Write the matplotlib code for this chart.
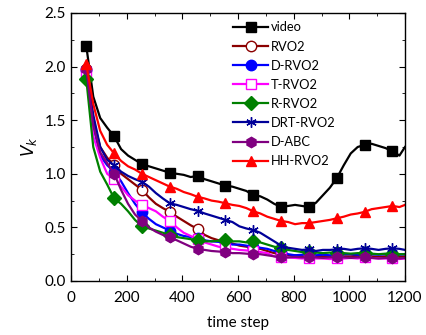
import numpy as np
import matplotlib
matplotlib.use('Agg')
import matplotlib.pyplot as plt
from matplotlib.ticker import MultipleLocator

plt.rcParams['font.family'] = ['Lato', 'DejaVu Sans']

steps = [55, 80, 105, 130, 155, 180, 205, 230, 255, 280, 305, 330, 355, 380, 405, 430,
         455, 480, 505, 530, 555, 580, 605, 630, 655, 680, 705, 730, 755, 780, 805, 830,
         855, 880, 905, 930, 955, 980, 1005, 1030, 1055, 1080, 1105, 1130, 1155, 1180, 1200]

video = [2.19, 1.72, 1.52, 1.43, 1.35, 1.23, 1.17, 1.13, 1.09, 1.07, 1.05, 1.03, 1.01, 1.00, 0.99, 0.97,
         0.98, 0.95, 0.93, 0.91, 0.89, 0.88, 0.86, 0.84, 0.80, 0.79, 0.76, 0.72, 0.69, 0.70, 0.71, 0.70,
         0.69, 0.73, 0.80, 0.87, 0.96, 1.08, 1.19, 1.25, 1.27, 1.28, 1.26, 1.24, 1.21, 1.17, 1.25]
rvo2 = [1.98, 1.50, 1.25, 1.15, 1.08, 1.00, 0.95, 0.90, 0.85, 0.78, 0.72, 0.68, 0.645, 0.60, 0.56, 0.52,
        0.485, 0.43, 0.40, 0.38, 0.37, 0.35, 0.33, 0.32, 0.31, 0.30, 0.28, 0.26, 0.25, 0.24, 0.24, 0.23,
        0.23, 0.235, 0.23, 0.23, 0.225, 0.23, 0.23, 0.235, 0.23, 0.23, 0.225, 0.23, 0.23, 0.225, 0.23]
d_rvo2 = [1.97, 1.45, 1.17, 1.08, 1.02, 0.93, 0.82, 0.72, 0.64, 0.58, 0.53, 0.50, 0.47, 0.44, 0.42, 0.41,
          0.40, 0.38, 0.37, 0.365, 0.36, 0.34, 0.34, 0.33, 0.32, 0.31, 0.30, 0.28, 0.27, 0.25, 0.24, 0.245,
          0.25, 0.24, 0.245, 0.24, 0.24, 0.25, 0.25, 0.245, 0.25, 0.25, 0.245, 0.25, 0.25, 0.245, 0.25]
t_rvo2 = [1.95, 1.35, 1.15, 1.00, 0.95, 0.88, 0.80, 0.75, 0.71, 0.68, 0.65, 0.60, 0.56, 0.50, 0.45, 0.42,
          0.39, 0.36, 0.34, 0.32, 0.31, 0.30, 0.29, 0.285, 0.28, 0.27, 0.26, 0.23, 0.22, 0.22, 0.215, 0.21,
          0.215, 0.21, 0.21, 0.205, 0.21, 0.21, 0.215, 0.21, 0.22, 0.215, 0.21, 0.21, 0.21, 0.205, 0.21]
r_rvo2 = [1.88, 1.25, 1.02, 0.90, 0.77, 0.72, 0.65, 0.57, 0.51, 0.49, 0.47, 0.45, 0.43, 0.41, 0.40, 0.39,
          0.38, 0.37, 0.37, 0.375, 0.38, 0.37, 0.37, 0.36, 0.37, 0.36, 0.34, 0.32, 0.31, 0.29, 0.28, 0.27,
          0.27, 0.265, 0.26, 0.265, 0.26, 0.26, 0.255, 0.26, 0.26, 0.255, 0.25, 0.255, 0.25, 0.25, 0.25]
drt_rvo2 = [1.98, 1.55, 1.25, 1.13, 1.08, 1.02, 0.98, 0.95, 0.925, 0.88, 0.82, 0.77, 0.725, 0.71, 0.69, 0.67,
            0.655, 0.63, 0.61, 0.59, 0.57, 0.55, 0.51, 0.49, 0.475, 0.45, 0.41, 0.37, 0.33, 0.31, 0.30, 0.29,
            0.295, 0.28, 0.29, 0.29, 0.295, 0.30, 0.29, 0.30, 0.305, 0.30, 0.29, 0.30, 0.305, 0.30, 0.29]
d_abc = [1.98, 1.45, 1.20, 1.10, 1.00, 0.85, 0.72, 0.62, 0.56, 0.50, 0.46, 0.43, 0.41, 0.38, 0.35, 0.32,
         0.30, 0.29, 0.28, 0.275, 0.27, 0.26, 0.26, 0.255, 0.25, 0.25, 0.24, 0.23, 0.22, 0.22, 0.225, 0.22,
         0.22, 0.22, 0.215, 0.22, 0.22, 0.22, 0.215, 0.22, 0.22, 0.215, 0.21, 0.215, 0.21, 0.21, 0.215]
hh_rvo2 = [2.02, 1.65, 1.40, 1.27, 1.19, 1.12, 1.07, 1.04, 1.00, 0.97, 0.94, 0.91, 0.88, 0.86, 0.83, 0.81,
           0.785, 0.77, 0.75, 0.74, 0.725, 0.71, 0.70, 0.68, 0.65, 0.63, 0.60, 0.58, 0.56, 0.55, 0.53, 0.54,
           0.54, 0.55, 0.56, 0.57, 0.585, 0.60, 0.62, 0.63, 0.645, 0.67, 0.68, 0.69, 0.70, 0.69, 0.71]

series = [
    ('video', video, 'black', 's', 'black'),
    ('RVO2', rvo2, '#8B0000', 'o', 'white'),
    ('D-RVO2', d_rvo2, '#0000FF', 'o', '#0000FF'),
    ('T-RVO2', t_rvo2, '#FF00FF', 's', 'white'),
    ('R-RVO2', r_rvo2, '#008000', 'D', '#008000'),
    ('DRT-RVO2', drt_rvo2, '#000099', '*', '#000099'),
    ('D-ABC', d_abc, '#800080', 'h', '#800080'),
    ('HH-RVO2', hh_rvo2, '#FF0000', '^', '#FF0000'),
]

fig = plt.figure(figsize=(4.27, 3.35), dpi=100)
ax = fig.add_axes([71/427, 1-281/335, 334/427, 268/335])

for name, vals, col, mk, fc in series:
    if mk == '*':
        mk = (6, 2, 0)
    ax.plot(steps, vals, color=col, lw=1.6, marker=mk, markevery=4, markersize=7.5,
            markerfacecolor=fc, markeredgecolor=col, markeredgewidth=1.0, label=name)

ax.set_xlim(0, 1200)
ax.set_ylim(0, 2.5)
ax.xaxis.set_major_locator(MultipleLocator(200))
ax.xaxis.set_minor_locator(MultipleLocator(100))
ax.yaxis.set_major_locator(MultipleLocator(0.5))
ax.yaxis.set_minor_locator(MultipleLocator(0.25))
ax.yaxis.set_major_formatter(matplotlib.ticker.FormatStrFormatter('%.1f'))
ax.tick_params(which='both', direction='in', top=True, right=True, labelsize=11)
ax.tick_params(which='major', length=4)
ax.tick_params(which='minor', length=2.5)
ax.tick_params(axis='x', which='major', pad=7)
for s in ax.spines.values():
    s.set_linewidth(1.0)

ax.set_xlabel('time step', fontsize=11, labelpad=8)
ax.set_ylabel('$V_k$', fontsize=12)

ax.legend(loc='upper left', bbox_to_anchor=(0.465, 0.995), frameon=False, fontsize=9.3,
          numpoints=1, handlelength=2.7, handletextpad=0.2, labelspacing=0.55, borderaxespad=0.15)

fig.savefig('out.png', dpi=100)
